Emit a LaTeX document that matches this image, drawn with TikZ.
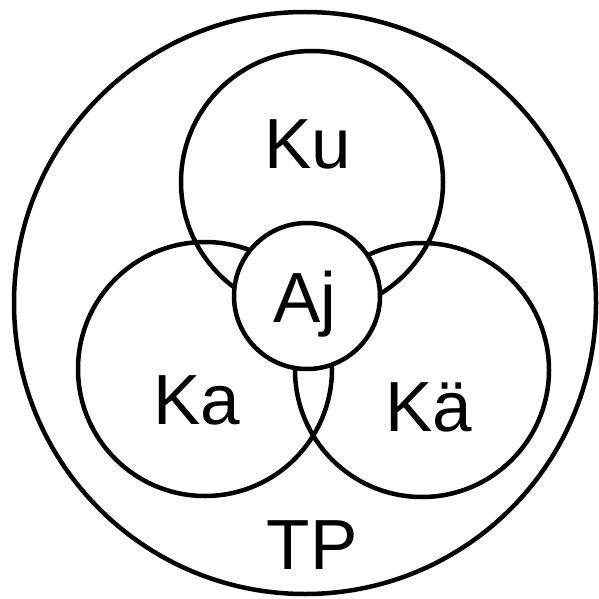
\documentclass[tikz,border=0pt]{standalone}
\usepackage{fontspec}
\setmainfont{Liberation Sans}

\begin{document}
\begin{tikzpicture}[x=1pt, y=-1pt,
    ring/.style={draw, circle, line width=4.5pt, inner sep=0pt},
    lbl/.style={font=\fontsize{71}{71}\selectfont, anchor=base}]
  \useasboundingbox (0,0) rectangle (598,599);

  % Outer circle
  \node[ring, minimum size=582pt] (tp) at (305,303) {};

  % Three overlapping circles
  \node[ring, minimum size=262pt] (ku) at (312,182) {};
  \node[ring, minimum size=254pt] (ka) at (205,369) {};
  \node[ring, minimum size=254pt] (kae) at (422,370) {};

  % Centre circle covers the overlaps
  \node[ring, fill=white, minimum size=146pt] (aj) at (307,296) {};

  % Labels
  \node[lbl] (kutxt) at (308,168) {Ku};
  \node[lbl] (katxt) at (197,424) {Ka};
  \node[lbl] (kaetxt) at (429,431) {Kä};
  \node[lbl] (ajtxt) at (305,322) {Aj};
  \node[lbl] (tptxt) at (312,569) {TP};
\end{tikzpicture}
\end{document}
